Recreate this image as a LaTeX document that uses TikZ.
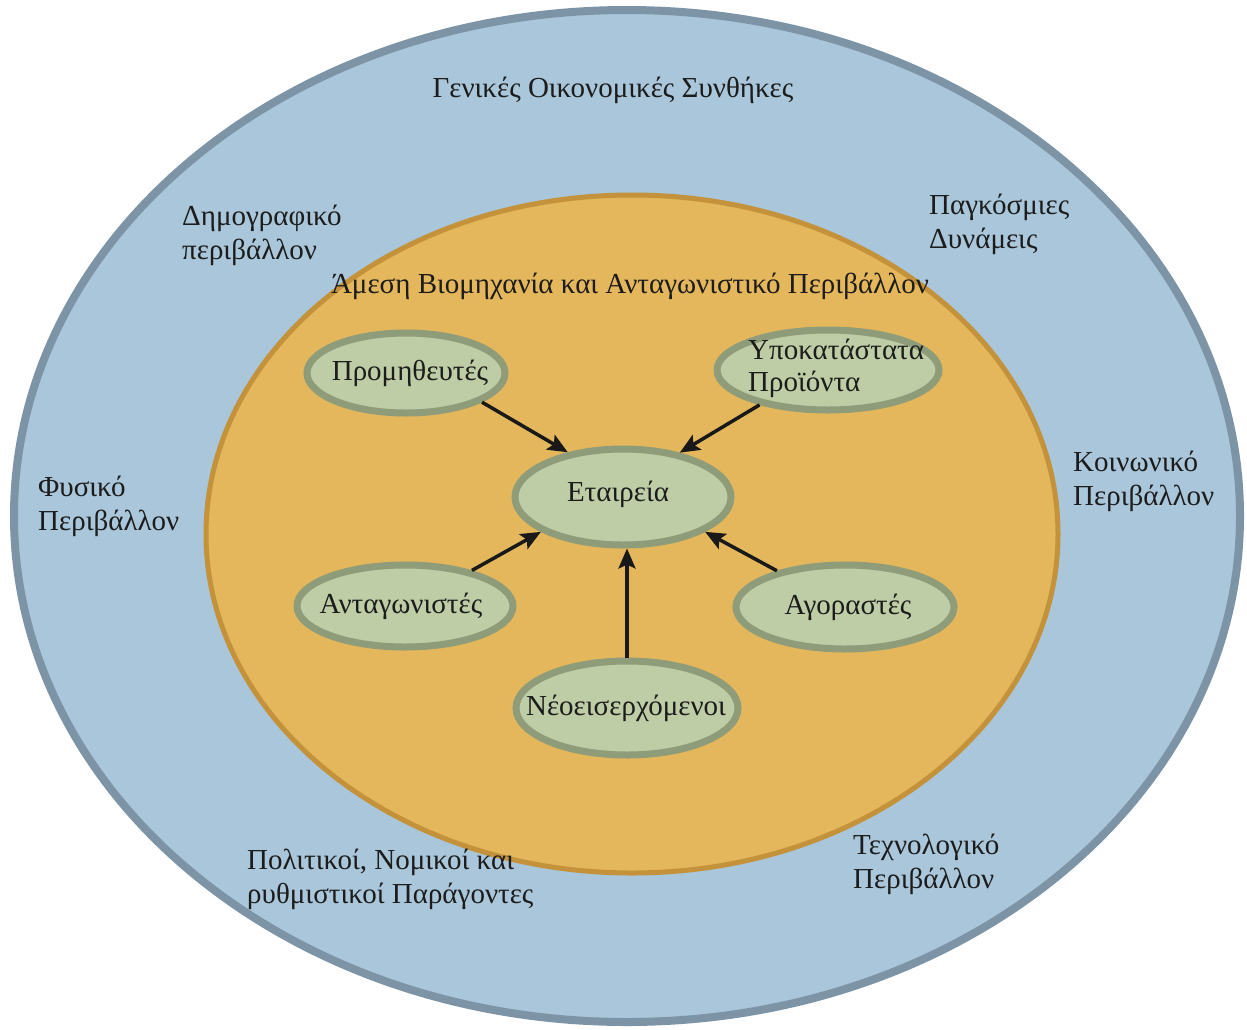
\documentclass[tikz,border=0pt]{standalone}
\usepackage{fontspec}
\setmainfont{Liberation Serif}
\usetikzlibrary{shapes.geometric,arrows.meta}

\definecolor{outerfill}{HTML}{AAC6DA}
\definecolor{outerline}{HTML}{7D94A6}
\definecolor{innerfill}{HTML}{E4B75C}
\definecolor{innerline}{HTML}{C3923A}
\definecolor{nodefill}{HTML}{BECDA5}
\definecolor{nodeline}{HTML}{8E9C7A}
\definecolor{inktext}{HTML}{1C1C1C}

\tikzset{
  ring/.style={ellipse, inner sep=0pt},
  actor/.style={ellipse, inner sep=0pt, fill=nodefill, draw=nodeline,
    line width=7pt},
  actortext/.style={inner sep=0pt, align=left, text=inktext,
    font=\fontsize{29}{32}\selectfont},
  envlabel/.style={inner sep=0pt, align=left, anchor=west, text=inktext,
    font=\fontsize{29}{34}\selectfont},
  force/.style={line width=3.5pt, draw=black!90,
    -{Stealth[length=20pt,width=17pt,inset=4pt]}},
}

\begin{document}
\begin{tikzpicture}[x=1pt,y=-1pt]
\useasboundingbox[fill=white] (0,0) rectangle (1247,1029);

% general environment and the industry environment inside it
\node[ring, fill=outerfill, draw=outerline, line width=8pt,
      minimum width=1226pt, minimum height=1012pt] (general) at (627,516) {};
\node[ring, fill=innerfill, draw=innerline, line width=5pt,
      minimum width=852pt, minimum height=678pt] (industry) at (632,534) {};

% labels of the general environment
\node[inner sep=0pt, text=inktext, font=\fontsize{29}{34}\selectfont] (econ) at (613,90)
  {Γενικές Οικονομικές Συνθήκες};
\node[envlabel] (demo) at (182,235) {Δημογραφικό\\περιβάλλον};
\node[envlabel] (global) at (929,224) {Παγκόσμιες\\Δυνάμεις};
\node[envlabel] (natural) at (38,506) {Φυσικό\\Περιβάλλον};
\node[envlabel] (social) at (1073,481) {Κοινωνικό\\Περιβάλλον};
\node[envlabel] (politic) at (247,879) {Πολιτικοί, Νομικοί και\\ρυθμιστικοί Παράγοντες};
\node[envlabel] (tech) at (853,864) {Τεχνολογικό\\Περιβάλλον};

% title of the industry environment
\node[inner sep=0pt, text=inktext, font=\fontsize{29}{34}\selectfont] (indtitle) at (630,286)
  {Άμεση Βιομηχανία και Ανταγωνιστικό Περιβάλλον};

% the firm and the five forces around it
\node[actor, minimum width=216pt, minimum height=96pt] (firm) at (623,497) {};
\node[actor, minimum width=198pt, minimum height=80pt] (suppliers) at (406,373) {};
\node[actor, minimum width=222pt, minimum height=80pt] (substitutes) at (828,370) {};
\node[actor, minimum width=216pt, minimum height=82pt] (rivals) at (405,606) {};
\node[actor, minimum width=218pt, minimum height=84pt] (buyers) at (845,607) {};
\node[actor, minimum width=222pt, minimum height=94pt] (entrants) at (627,708) {};

\node[actortext] (firmtext) at (618,494) {Εταιρεία};
\node[actortext] (supptext) at (410,373) {Προμηθευτές};
\node[actortext, anchor=west] (subtext) at (748,368) {Υποκατάστατα\\Προϊόντα};
\node[actortext] (rivtext) at (401,606) {Ανταγωνιστές};
\node[actortext] (buytext) at (848,607) {Αγοραστές};
\node[actortext] (enttext) at (626,708) {Νέοεισερχόμενοι};

% forces acting on the firm
\draw[force] (suppliers.339) -- (firm.141);
\draw[force] (substitutes.207) -- (firm.38);
\draw[force] (rivals.28) -- (firm.203);
\draw[force] (buyers.152) -- (firm.337);
\draw[force] (entrants.north) -- (entrants.north |- firm.south);
\end{tikzpicture}
\end{document}
